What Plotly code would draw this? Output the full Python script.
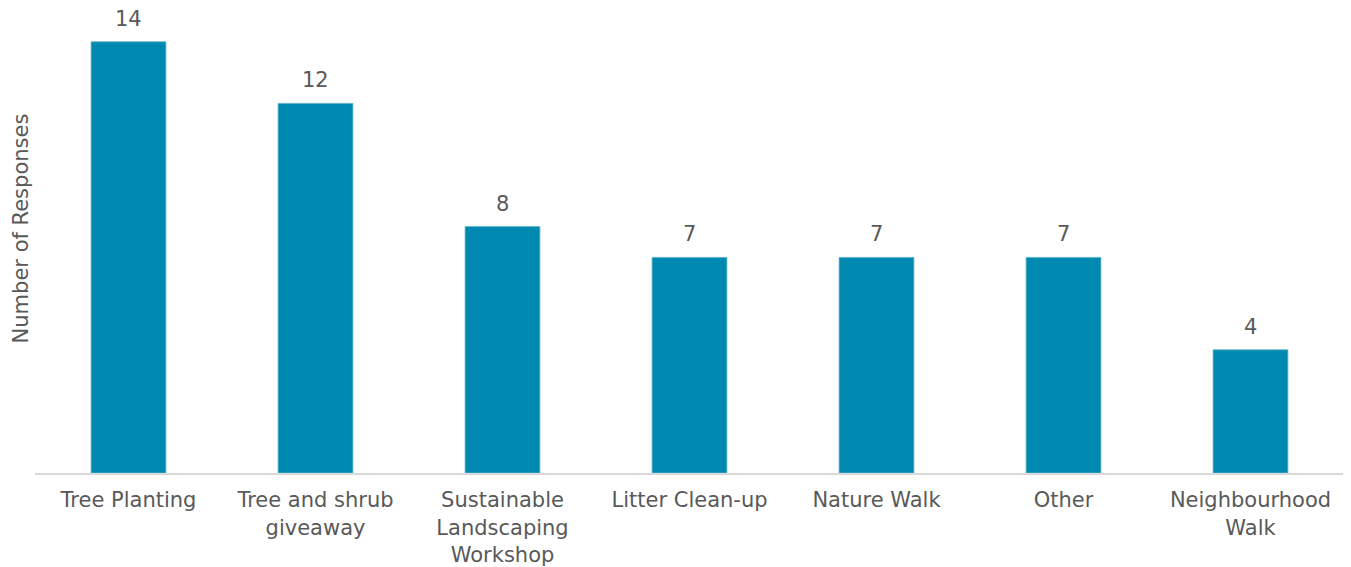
import plotly.graph_objects as go

categories = ["Tree Planting", "Tree and shrub<br>giveaway", "Sustainable<br>Landscaping<br>Workshop",
              "Litter Clean-up", "Nature Walk", "Other", "Neighbourhood<br>Walk"]
responses = [14, 12, 8, 7, 7, 7, 4]
y_title = "Number of Responses"

FONT = "DejaVu Sans"
TXT = "#595959"

fig = go.Figure()
fig.add_trace(go.Bar(
    x=categories, y=responses,
    marker=dict(color="#0089B0", line=dict(color="#5DB2CC", width=0.8)),
    hoverinfo="x+y",
))

for c, v in zip(categories, responses):
    fig.add_annotation(x=c, y=v, xref="x", yref="y", text=str(v), showarrow=False,
                       yanchor="bottom", yshift=9,
                       font=dict(family=FONT, size=21, color=TXT))

fig.add_annotation(xref="paper", yref="paper", x=-0.0105, y=0.53, text=y_title,
                   textangle=-90, showarrow=False, xanchor="center", yanchor="middle",
                   font=dict(family=FONT, size=21, color=TXT))

# page body has an 8px default margin, margins below account for it
fig.update_layout(
    width=1351, height=567,
    margin=dict(l=27, r=15, t=3, b=102, autoexpand=False),
    paper_bgcolor="white", plot_bgcolor="white",
    bargap=0.6,
    showlegend=False,
    font=dict(family=FONT, size=21, color=TXT),
    xaxis=dict(showline=True, linecolor="#D9D9D9", linewidth=2, showgrid=False,
               automargin=False,
               ticks="outside", ticklen=7, tickcolor="rgba(0,0,0,0)",
               tickfont=dict(family=FONT, size=21, color=TXT)),
    yaxis=dict(range=[0, 15], showgrid=False, showticklabels=False, zeroline=False,
               showline=False, automargin=False),
)

fig.write_html("out.html")
